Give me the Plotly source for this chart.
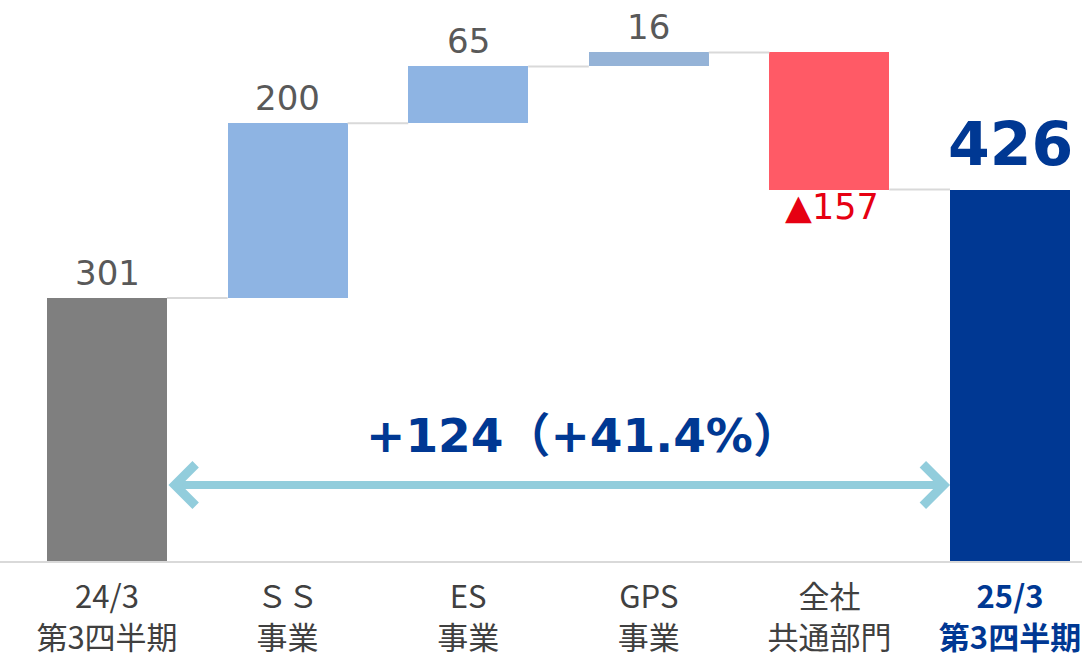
import numpy as np
import plotly.graph_objects as go

# ---- data ----
categories = ["24/3<br>第3四半期", "ＳＳ<br>事業", "ES<br>事業", "GPS<br>事業", "全社<br>共通部門",
              "<b><span style='color:#003893'>25/3<br>第3四半期</span></b>"]
start_value = 301
changes = [200, 65, 16, -157]
value_labels = ["301", "200", "65", "16", "▲157", "<b>426</b>"]
bar_colors = ["#7F7F7F", "#8EB4E3", "#8EB4E3", "#95B3D7", "#FF5A66", "#003893"]
label_colors = ["#595959", "#595959", "#595959", "#595959", "#E60012", "#003893"]
label_sizes = [34, 34, 34, 34, 35, 60]
diff_label = "+124（+41.4%）"

# ---- derived ----
levels = np.cumsum([start_value] + changes)          # running totals
total = levels[-1]
bases = [0] + [min(levels[i], levels[i + 1]) for i in range(len(changes))] + [0]
heights = [start_value] + [abs(c) for c in changes] + [total]
tops = [b + h for b, h in zip(bases, heights)]
x = list(range(len(categories)))
bw = 0.664

fig = go.Figure()

# connectors
cx, cy = [], []
for i, lv in enumerate(levels):
    cx += [i + bw / 2, i + 1 - bw / 2, None]
    cy += [lv, lv, None]
fig.add_trace(go.Scatter(x=cx, y=cy, mode="lines", line=dict(color="#D9D9D9", width=2),
                         hoverinfo="skip", showlegend=False))

fig.add_trace(go.Bar(x=x, y=heights, base=bases, width=bw, marker=dict(color=bar_colors, line=dict(width=0)),
                     showlegend=False, hoverinfo="skip"))

# value labels
for i in x:
    is_dec = i == 4
    fig.add_annotation(x=i, y=bases[i] if is_dec else tops[i], text=value_labels[i], showarrow=False,
                       yanchor="top" if is_dec else "bottom", yshift=5 if is_dec else (9 if i == 5 else 3),
                       xshift=3 if is_dec else 0,
                       font=dict(size=label_sizes[i], color=label_colors[i],
                                 family="DejaVu Sans, Noto Sans CJK JP"))

# double arrow
arrow_y = 87
fig.add_annotation(x=len(categories) - 1 - bw / 2, y=arrow_y, ax=bw / 2, ay=arrow_y,
                   xref="x", yref="y", axref="x", ayref="y", text="", showarrow=True,
                   arrowhead=4, startarrowhead=4, arrowside="end+start", arrowsize=1, startarrowsize=1,
                   arrowwidth=8, arrowcolor="#92CDDC", standoff=0, startstandoff=0)
fig.add_annotation(x=(len(categories) - 1) / 2, y=arrow_y, text="<b>" + diff_label + "</b>", showarrow=False,
                   yanchor="bottom", yshift=20, xshift=24,
                   font=dict(size=47, color="#003893", family="DejaVu Sans, Noto Sans CJK JP"))

fig.update_layout(
    width=1082, height=653, margin=dict(l=0, r=0, t=0, b=92, autoexpand=False),
    plot_bgcolor="white", paper_bgcolor="white",
    xaxis=dict(range=[-0.5925, 5.3987], tickmode="array", tickvals=x, ticktext=categories,
               showgrid=False, zeroline=False, showline=True, linecolor="#D9D9D9", linewidth=2,
               ticks="", tickfont=dict(size=31, color="#404040", family="Noto Sans CJK JP"),
               ticklabelstandoff=8, automargin=False, fixedrange=True),
    yaxis=dict(range=[0, 642], visible=False, fixedrange=True, automargin=False),
    bargap=0,
)

fig.write_html("out.html", config={"displayModeBar": False},
               post_script="document.body.style.margin='0';")
